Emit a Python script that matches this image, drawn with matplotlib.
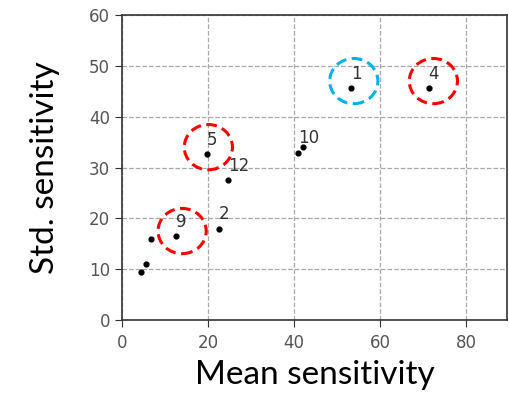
import matplotlib
matplotlib.use("Agg")
import matplotlib.pyplot as plt
from matplotlib.patches import Ellipse

# Datos
mean_sens = [53.2, 71.3, 19.7, 40.9, 42.1, 24.6, 22.5, 12.5, 6.8, 4.4, 5.6]
std_sens = [45.6, 45.6, 32.6, 32.9, 34.0, 27.5, 18.0, 16.5, 15.9, 9.5, 11.0]
etiquetas = ["1", "4", "5", "10", "", "12", "2", "9", "", "", ""]

# Circulos de resalte (centro x, centro y, color)
circ_x = [53.9, 72.4, 20.1, 14.0]
circ_y = [47.0, 47.0, 34.0, 17.5]
circ_color = ["#00b0f0", "#ff0000", "#ff0000", "#ff0000"]

fig = plt.figure(figsize=(5.1, 4.0), dpi=100)
ax = fig.add_axes([0.239, 0.2, 0.755, 0.7625])

ax.scatter(mean_sens, std_sens, s=12, color="black", zorder=3)
for x, y, t in zip(mean_sens, std_sens, etiquetas):
    if t:
        ax.annotate(t, (x, y), xytext=(0, 4), textcoords="offset points",
                    fontsize=12, color="#333333", ha="left", va="bottom")

for cx, cy, c in zip(circ_x, circ_y, circ_color):
    ax.add_patch(Ellipse((cx, cy), 11.2, 8.9, fill=False, edgecolor=c,
                         linewidth=2.2, linestyle=(0, (3.5, 1.8)), zorder=4))

ax.set_xlim(0, 89.5)
ax.set_ylim(0, 60)
ax.set_xticks([0, 20, 40, 60, 80])
ax.set_yticks([0, 10, 20, 30, 40, 50, 60])
ax.grid(True, linestyle="--", color="#a8a8a8", linewidth=0.9)
ax.set_axisbelow(True)
ax.tick_params(labelsize=12, labelcolor="#555555", length=5, color="#333333")
ax.tick_params(axis="x", pad=5)
for s in ax.spines.values():
    s.set_color("#333333")
    s.set_linewidth(1.2)

ax.set_xlabel("Mean sensitivity", fontsize=24, family="Lato", labelpad=6)
ax.set_ylabel("Std. sensitivity", fontsize=24, family="Lato", labelpad=21)

fig.savefig("out.png", dpi=100)
